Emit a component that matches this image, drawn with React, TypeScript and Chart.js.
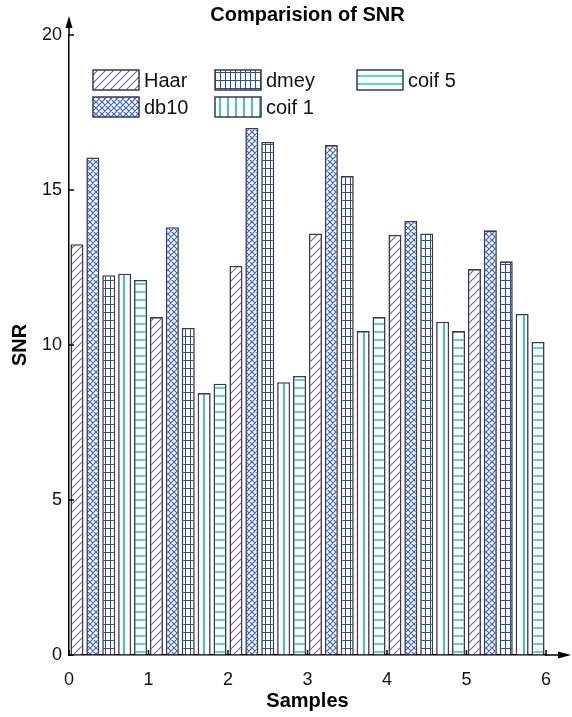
import React, { useEffect, useRef } from 'react';
import { Chart, registerables } from 'chart.js';

Chart.register(...registerables);

const TITLE = 'Comparision of SNR';
const X_TITLE = 'Samples';
const Y_TITLE = 'SNR';
const SAMPLES = ['1', '2', '3', '4', '5', '6'];
const SERIES_NAMES = ['Haar', 'db10', 'dmey', 'coif 1', 'coif 5'];
const HAAR = [13.25, 10.9, 12.55, 13.6, 13.55, 12.45];
const DB10 = [16.05, 13.8, 17.0, 16.45, 14.0, 13.7];
const DMEY = [12.25, 10.55, 16.55, 15.45, 13.6, 12.7];
const COIF1 = [12.3, 8.45, 8.8, 10.45, 10.75, 11.0];
const COIF5 = [12.1, 8.75, 9.0, 10.9, 10.45, 10.1];
const X_TICKS = [0, 1, 2, 3, 4, 5, 6];
const Y_TICKS = [0, 5, 10, 15, 20];

const SERIES = [HAAR, DB10, DMEY, COIF1, COIF5];
const PATTERN_KINDS = ['diag', 'cross', 'grid', 'vlines', 'hlines'];
const PATTERN_COLORS = ['#7462c8', '#3a60d0', '#2449bb', '#4cb8e6', '#55dacd'];
const FONT = '"Liberation Sans", Arial, Helvetica, sans-serif';

function makePattern(kind: string, color: string): CanvasPattern | string {
  const c = document.createElement('canvas');
  let w = 8;
  let h = 8;
  if (kind === 'cross') { w = 6; h = 6; }
  if (kind === 'grid') { w = 5; h = 8; }
  c.width = w;
  c.height = h;
  const g = c.getContext('2d');
  if (!g) return '#fff';
  g.fillStyle = '#ffffff';
  g.fillRect(0, 0, w, h);
  g.strokeStyle = color;
  g.fillStyle = color;
  g.lineWidth = 1.2;
  if (kind === 'diag' || kind === 'cross') {
    g.beginPath();
    g.moveTo(-1, h + 1); g.lineTo(w + 1, -1);
    g.moveTo(-1, 1); g.lineTo(1, -1);
    g.moveTo(w - 1, h + 1); g.lineTo(w + 1, h - 1);
    if (kind === 'cross') {
      g.moveTo(-1, -1); g.lineTo(w + 1, h + 1);
      g.moveTo(w - 1, -1); g.lineTo(w + 1, 1);
      g.moveTo(-1, h - 1); g.lineTo(1, h + 1);
    }
    g.stroke();
  } else if (kind === 'grid') {
    g.fillRect(0, 0, 1, h);
    g.fillRect(0, 0, w, 1);
  } else if (kind === 'vlines') {
    g.fillRect(3, 0, 2, h);
  } else if (kind === 'hlines') {
    g.fillRect(0, 3, w, 2);
  }
  const p = g.createPattern(c, 'repeat');
  return p || color;
}

const LEGEND_COLS = [24, 146, 288];
const LEGEND_ROWS = [35, 62];

const decorPlugin = {
  id: 'decor',
  afterDatasetsDraw(chart: any) {
    const { ctx, chartArea: a, scales } = chart;
    const xs = scales.xv;
    const ys = scales.y;
    ctx.save();
    ctx.strokeStyle = '#000';
    ctx.fillStyle = '#000';
    ctx.lineWidth = 1.5;
    ctx.beginPath();
    for (const v of Y_TICKS) {
      const py = ys.getPixelForValue(v);
      ctx.moveTo(a.left, py);
      ctx.lineTo(a.left + 5, py);
    }
    for (const v of X_TICKS) {
      const px = xs.getPixelForValue(v);
      ctx.moveTo(px, a.bottom);
      ctx.lineTo(px, a.bottom - 5);
    }
    ctx.moveTo(a.left, a.top + 1);
    ctx.lineTo(a.left, a.top - 10);
    ctx.moveTo(a.right - 1, a.bottom);
    ctx.lineTo(a.right + 14, a.bottom);
    ctx.stroke();
    ctx.beginPath();
    ctx.moveTo(a.left, a.top - 19);
    ctx.lineTo(a.left - 3.5, a.top - 7);
    ctx.lineTo(a.left + 3.5, a.top - 7);
    ctx.closePath();
    ctx.fill();
    ctx.beginPath();
    ctx.moveTo(a.right + 25, a.bottom);
    ctx.lineTo(a.right + 12, a.bottom - 3.5);
    ctx.lineTo(a.right + 12, a.bottom + 3.5);
    ctx.closePath();
    ctx.fill();

    // legend (column-major)
    ctx.font = '20px ' + FONT;
    ctx.textBaseline = 'middle';
    ctx.textAlign = 'left';
    chart.data.datasets.forEach((ds: any, i: number) => {
      const col = Math.floor(i / 2);
      const row = i % 2;
      const x = a.left + LEGEND_COLS[col];
      const y = a.top + LEGEND_ROWS[row];
      ctx.fillStyle = ds.backgroundColor;
      ctx.fillRect(x, y, 46, 20);
      ctx.strokeStyle = '#3c3c3c';
      ctx.lineWidth = 1.5;
      ctx.strokeRect(x, y, 46, 20);
      ctx.fillStyle = '#111';
      ctx.fillText(ds.label, x + 51, y + 11);
    });
    ctx.restore();
  },
};

export default function App() {
  const ref = useRef<HTMLCanvasElement | null>(null);
  useEffect(() => {
    if (!ref.current) return;
    const patterns = PATTERN_KINDS.map((k, i) => makePattern(k, PATTERN_COLORS[i]));
    const chart = new Chart(ref.current, {
      type: 'bar',
      data: {
        labels: SAMPLES,
        datasets: SERIES.map((d, i) => ({
          label: SERIES_NAMES[i],
          data: d,
          backgroundColor: patterns[i] as any,
          borderColor: '#3c3c3c',
          borderWidth: 1.6,
          xAxisID: 'x',
          yAxisID: 'y',
          categoryPercentage: 1,
          barPercentage: 0.82,
        })),
      },
      options: {
        responsive: false,
        animation: false,
        devicePixelRatio: 1,
        layout: { padding: { left: 0, right: 26, top: 0, bottom: 0 } },
        plugins: {
          legend: { display: false },
          tooltip: { enabled: false },
          title: {
            display: true,
            text: TITLE,
            color: '#000',
            fullSize: false,
            font: { size: 20, weight: 'bold', family: FONT },
            padding: { top: 3, bottom: 8 },
          },
        },
        scales: {
          x: {
            type: 'category',
            display: false,
            offset: true,
          },
          xv: {
            type: 'linear',
            position: 'bottom',
            offset: false,
            min: 0,
            max: 6,
            afterBuildTicks: (s: any) => { s.ticks = X_TICKS.map((v) => ({ value: v })); },
            afterFit: (s: any) => { s.height = 62; },
            grid: { offset: false, drawOnChartArea: false, drawTicks: false },
            border: { display: true, color: '#000', width: 1.5 },
            ticks: { padding: 14, color: '#111', autoSkip: false, maxRotation: 0, font: { size: 18, family: FONT } },
            title: {
              display: true,
              text: X_TITLE,
              color: '#000',
              font: { size: 20, weight: 'bold', family: FONT },
              padding: { top: 0, bottom: 4 },
            },
          },
          y: {
            type: 'linear',
            min: 0,
            max: 20,
            afterBuildTicks: (s: any) => { s.ticks = Y_TICKS.map((v) => ({ value: v })); },
            afterFit: (s: any) => { s.width = 69; },
            grid: { drawOnChartArea: false, drawTicks: false },
            border: { display: true, color: '#000', width: 1.5 },
            ticks: { padding: 7, color: '#111', font: { size: 18, family: FONT } },
            title: {
              display: true,
              text: Y_TITLE,
              color: '#000',
              font: { size: 20, weight: 'bold', family: FONT },
              padding: { top: 8, bottom: 0 },
            },
          },
        } as any,
      },
      plugins: [decorPlugin],
    });
    return () => chart.destroy();
  }, []);
  return (
    <div style={{ position: 'absolute', left: 0, top: 0, width: 572, height: 717, background: '#fff' }}>
      <canvas ref={ref} width={572} height={717} />
    </div>
  );
}
